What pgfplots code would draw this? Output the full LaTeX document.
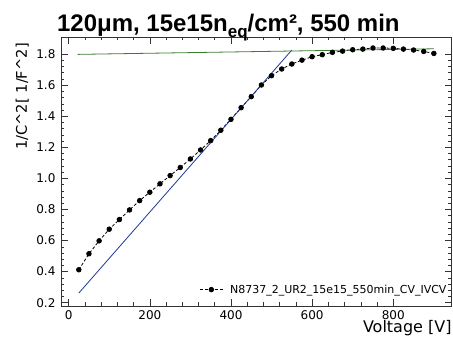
\documentclass[border=0pt]{standalone}
\usepackage{pgfplots}
\pgfplotsset{compat=1.18}
\usepackage{fontspec}
\setmainfont{DejaVu Sans}
\newfontfamily\titlefont{Liberation Sans}
\definecolor{fitblue}{RGB}{30,55,150}
\definecolor{fitgreen}{RGB}{60,125,50}
\begin{document}
\begin{tikzpicture}
\begin{axis}[
  scale only axis,
  width=391pt, height=269pt,
  xmin=-19, xmax=944,
  ymin=0.18, ymax=1.91,
  xtick={0,200,400,600,800},
  ytick={0.2,0.4,0.6,0.8,1.0,1.2,1.4,1.6,1.8},
  minor x tick num=4,
  minor y tick num=4,
  tick align=inside,
  tick pos=both,
  major tick length=7pt,
  minor tick length=3.5pt,
  axis line style={black!80, line width=0.6pt},
  every tick/.style={black!80, line width=0.5pt},
  /pgf/number format/assume math mode=true,
  ticklabel style={font=\fontsize{12}{14}\selectfont},
  yticklabel style={/pgf/number format/fixed, /pgf/number format/fixed zerofill, /pgf/number format/precision=1, xshift=-2pt},
  xticklabel style={yshift=-1pt},
  legend style={draw=none, fill=none, at={(axis description cs:0.995,0.03)}, anchor=south east,
    font=\fontsize{11}{13}\selectfont, inner sep=1pt},
  legend cell align=left,
  legend image code/.code={\draw[mark repeat=2,mark phase=2] plot coordinates {(0cm,0cm)(0.4cm,0cm)(0.8cm,0cm)};},
]
\addplot[black, dashed, dash pattern=on 3pt off 2pt, line width=0.8pt, mark=*, mark size=2.3pt, mark options={solid}] coordinates {
(25,0.412)(50,0.515)(75,0.598)(100,0.673)(125,0.735)(150,0.797)(175,0.857)(200,0.911)
(225,0.965)(250,1.018)(275,1.070)(300,1.125)(325,1.183)(350,1.243)(375,1.310)(400,1.380)
(425,1.455)(450,1.526)(475,1.601)(500,1.661)(525,1.704)(550,1.736)(575,1.761)(600,1.783)
(625,1.796)(650,1.811)(675,1.819)(700,1.828)(725,1.832)(750,1.839)(775,1.839)(800,1.837)
(825,1.832)(850,1.826)(875,1.817)(900,1.804)};
\addlegendentry{\hspace{5pt}N8737\_2\_UR2\_15e15\_550min\_CV\_IVCV}
\addplot[fitblue, line width=0.8pt, forget plot] coordinates {(25,0.262)(550,1.826)};
\addplot[fitgreen, line width=0.8pt, forget plot] coordinates {(22,1.798)(900,1.834)};
\end{axis}
\node[anchor=base west, font=\titlefont\bfseries\fontsize{24}{28}\selectfont, inner sep=0pt]
  at ([shift={(-4pt,5.3pt)}]current axis.north west) {120μm, 15e15n\raisebox{-6pt}{\fontsize{17}{17}\selectfont eq}/cm², 550 min};
\node[rotate=90, anchor=base east, font=\fontsize{14.7}{17}\selectfont, inner sep=0pt]
  at ([shift={(-34pt,-6pt)}]current axis.north west) {1/C\^{}2[ 1/F\^{}2]};
\node[anchor=base east, font=\fontsize{16}{19}\selectfont, inner sep=0pt]
  at ([shift={(0pt,-27pt)}]current axis.south east) {Voltage [V]};
\pgfresetboundingbox
\path ([shift={(-61pt,-32pt)}]current axis.south west) rectangle ([shift={(1.3pt,37pt)}]current axis.north east);
\end{tikzpicture}
\end{document}
